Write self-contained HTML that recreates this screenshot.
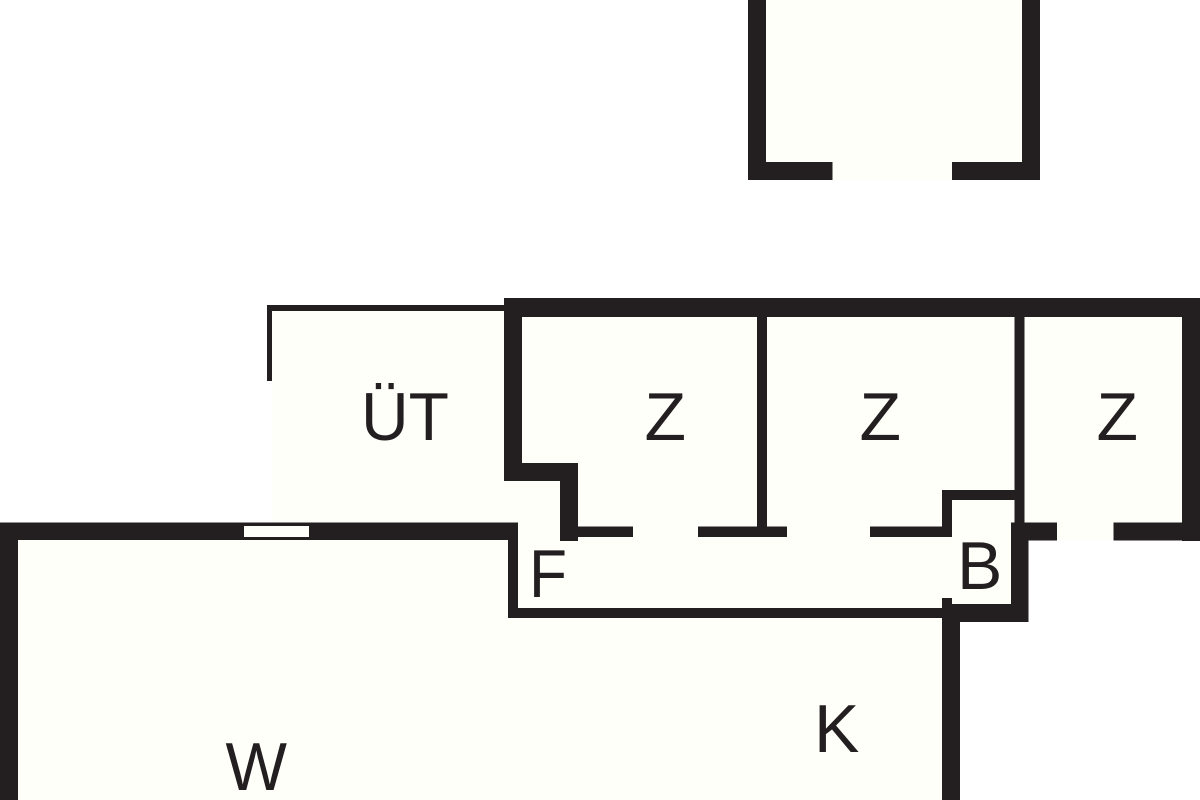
<!DOCTYPE html>
<html><head><meta charset="utf-8"><title>Floor plan</title>
<style>html,body{margin:0;padding:0;background:#fff;width:1200px;height:800px;overflow:hidden}svg{display:block}text{font-family:"Liberation Sans",Arial,sans-serif;font-size:68px;fill:#231f20}</style></head>
<body>
<svg width="1200" height="800" viewBox="0 0 1200 800" xmlns="http://www.w3.org/2000/svg">
<rect width="1200" height="800" fill="#fff"/>
<g fill="#fffffa">
<rect x="748" y="0" width="292" height="180"/>
<rect x="272" y="310" width="240" height="220"/>
<rect x="510" y="310" width="680" height="230"/>
<rect x="510" y="530" width="510" height="85"/>
<rect x="0" y="530" width="950" height="270"/>
</g>
<g fill="#231f20">
<!-- top room -->
<rect x="748" y="0" width="18" height="180"/>
<rect x="1022" y="0" width="18" height="180"/>
<rect x="748" y="162" width="84.500" height="18"/>
<rect x="952" y="162" width="88" height="18"/>
<!-- terrace thin lines -->
<rect x="267" y="305" width="238" height="6"/>
<rect x="267" y="305" width="5" height="76"/>
<!-- thick upper walls -->
<rect x="504" y="298" width="696" height="19"/>
<rect x="504" y="298" width="18" height="183"/>
<rect x="504" y="463" width="74" height="18"/>
<rect x="560" y="463" width="18" height="78"/>
<rect x="1182" y="298" width="18" height="243"/>
<!-- thin partitions -->
<rect x="578" y="526.500" width="55" height="10.500"/>
<rect x="698" y="526.500" width="89" height="10.500"/>
<rect x="757" y="317" width="10" height="210"/>
<rect x="870" y="526.500" width="82" height="10.500"/>
<rect x="942" y="490" width="10" height="47"/>
<rect x="942" y="490" width="73" height="10"/>
<rect x="1014.500" y="317" width="10" height="206"/>
<!-- B and right lower walls -->
<rect x="1011" y="522.500" width="17.500" height="99"/>
<rect x="1011" y="522.500" width="46" height="18"/>
<rect x="1113.500" y="522.500" width="86.500" height="18"/>
<rect x="952" y="604" width="76.500" height="18"/>
<rect x="942" y="598" width="10" height="20"/>
<rect x="942" y="604" width="18" height="196"/>
<!-- lower thick walls -->
<rect x="0" y="522.500" width="518" height="17.500"/>
<rect x="0" y="522.500" width="18" height="277.500"/>
<rect x="508" y="522.500" width="10" height="95.500"/>
<rect x="508" y="608" width="440" height="10"/>
</g>
<rect x="244" y="526" width="65" height="11" fill="#fffffa"/>
<text x="361" y="440" textLength="88" lengthAdjust="spacingAndGlyphs">ÜT</text>
<text x="644.500" y="440">Z</text>
<text x="859.500" y="440">Z</text>
<text x="1096.500" y="440">Z</text>
<text x="529" y="597" textLength="38" lengthAdjust="spacingAndGlyphs">F</text>
<text x="957" y="589">B</text>
<text x="814" y="752">K</text>
<text x="225.500" y="790" textLength="61.500" lengthAdjust="spacingAndGlyphs">W</text>
</svg>
</body></html>
